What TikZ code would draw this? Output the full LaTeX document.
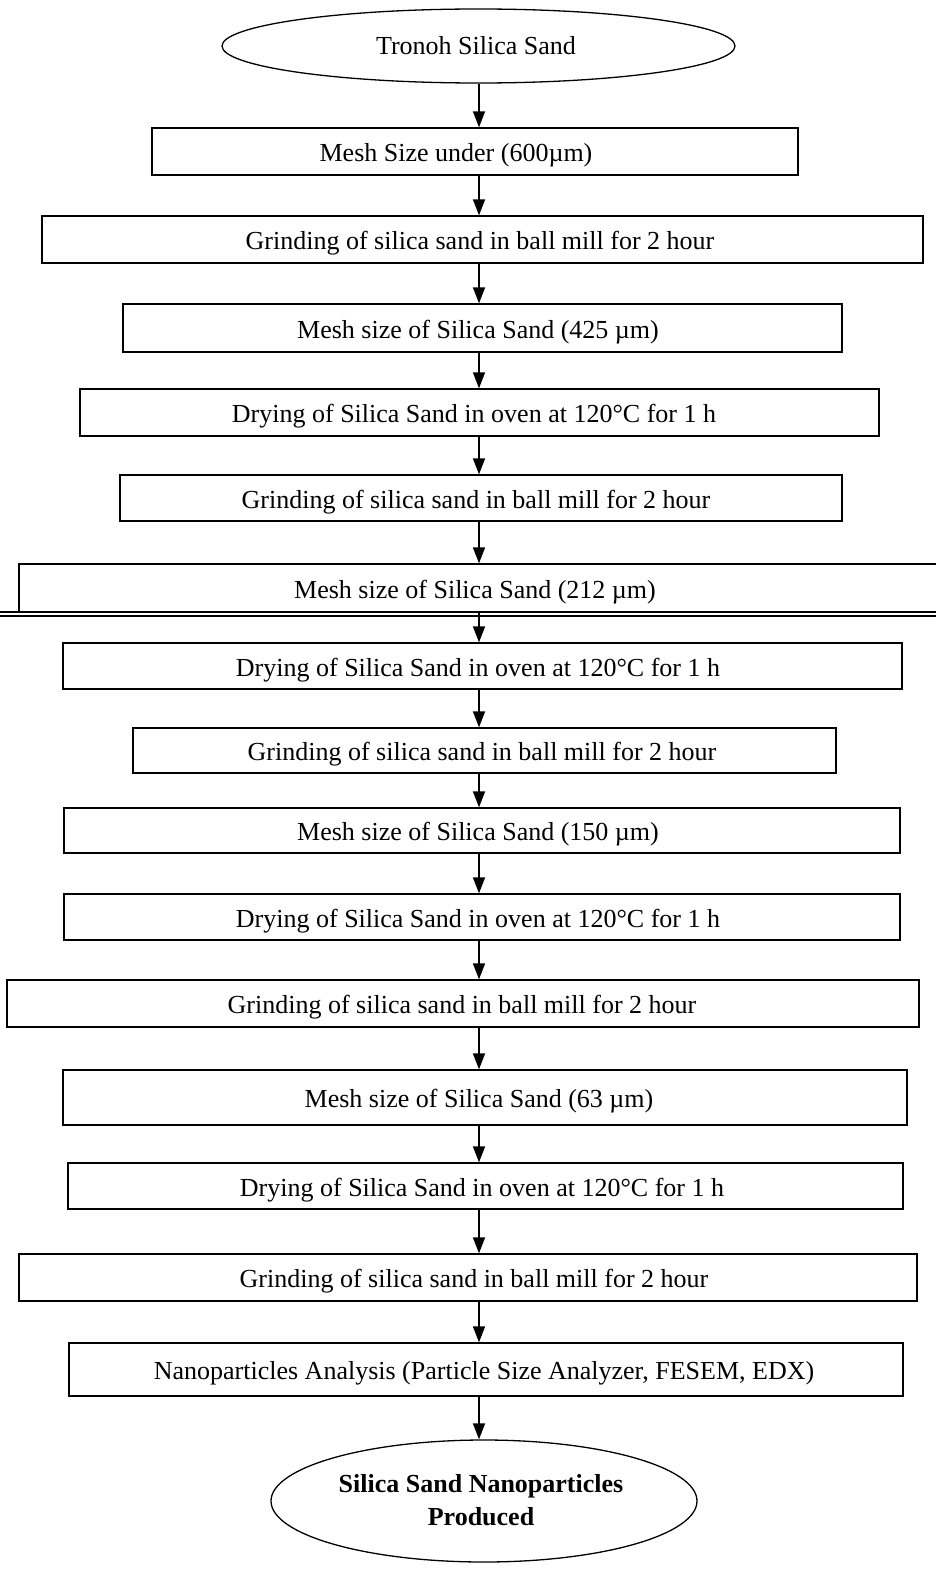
\documentclass[tikz,border=0pt]{standalone}
\usepackage{fontspec}
\setmainfont{Liberation Serif}
\usetikzlibrary{shapes.geometric,arrows.meta}
\tikzset{
  box/.style={draw, line width=1.3pt, rectangle, inner sep=0pt},
  oval/.style={draw, line width=1.3pt, ellipse, inner sep=0pt},
  txt/.style={font=\fontsize{26}{33}\selectfont, inner sep=0pt, align=center},
  arr/.style={line width=1.5pt, -{Triangle[length=16pt,width=12pt]}},
}
\newcommand\stepbox[7]{%
  \node[box, minimum width={(#4-#2)*1pt}, minimum height={(#5-#3)*1pt}] (#1) at ({(#2+#4)/2},{(#3+#5)/2}) {};
  \node[txt] (#1t) at (#6,{(#3+#5)/2+4}) {#7};
}
\begin{document}
\begin{tikzpicture}[x=1pt,y=-1pt]
\useasboundingbox (0,0) rectangle (936,1571);
\coordinate (ax) at (479,0);
\node[oval, minimum width=513pt, minimum height=74pt] (n1) at (478.5,46) {};
\node[txt] (n1t) at (476,46) {Tronoh Silica Sand};
\stepbox{n2}{152}{128}{798}{175}{456}{Mesh Size under (600µm)}
\stepbox{n3}{42}{216}{923}{263}{480}{Grinding of silica sand in ball mill for 2 hour}
\stepbox{n4}{123}{304}{842}{352}{478}{Mesh size of Silica Sand (425 µm)}
\stepbox{n5}{80}{389}{879}{436}{474}{Drying of Silica Sand in oven at 120°C for 1 h}
\stepbox{n6}{120}{475}{842}{521}{476}{Grinding of silica sand in ball mill for 2 hour}
\stepbox{n7}{19}{564}{945}{612}{475}{Mesh size of Silica Sand (212 µm)}
\draw[line width=1.1pt] (0,612) -- (936,612);
\draw[line width=1.1pt] (0,616) -- (936,616);
\stepbox{n8}{63}{643}{902}{689}{478}{Drying of Silica Sand in oven at 120°C for 1 h}
\stepbox{n9}{133}{728}{836}{773}{482}{Grinding of silica sand in ball mill for 2 hour}
\stepbox{n10}{64}{808}{900}{853}{478}{Mesh size of Silica Sand (150 µm)}
\stepbox{n11}{64}{894}{900}{940}{478}{Drying of Silica Sand in oven at 120°C for 1 h}
\stepbox{n12}{7}{980}{919}{1027}{462}{Grinding of silica sand in ball mill for 2 hour}
\stepbox{n13}{63}{1070}{907}{1125}{479}{Mesh size of Silica Sand (63 µm)}
\stepbox{n14}{68}{1163}{903}{1209}{482}{Drying of Silica Sand in oven at 120°C for 1 h}
\stepbox{n15}{19}{1254}{917}{1301}{474}{Grinding of silica sand in ball mill for 2 hour}
\stepbox{n16}{69}{1343}{903}{1396}{484}{Nanoparticles Analysis (Particle Size Analyzer, FESEM, EDX)}
\node[oval, minimum width=426pt, minimum height=122pt] (n17) at (484,1501) {};
\node[txt, font=\fontsize{26}{33}\selectfont\bfseries] (n17t) at (481,1500) {Silica Sand Nanoparticles\\Produced};
\draw[arr] (n1.south -| ax) -- (n2.north -| ax);
\draw[arr] (n2.south -| ax) -- (n3.north -| ax);
\draw[arr] (n3.south -| ax) -- (n4.north -| ax);
\draw[arr] (n4.south -| ax) -- (n5.north -| ax);
\draw[arr] (n5.south -| ax) -- (n6.north -| ax);
\draw[arr] (n6.south -| ax) -- (n7.north -| ax);
\draw[arr] (n7.south -| ax) -- (n8.north -| ax);
\draw[arr] (n8.south -| ax) -- (n9.north -| ax);
\draw[arr] (n9.south -| ax) -- (n10.north -| ax);
\draw[arr] (n10.south -| ax) -- (n11.north -| ax);
\draw[arr] (n11.south -| ax) -- (n12.north -| ax);
\draw[arr] (n12.south -| ax) -- (n13.north -| ax);
\draw[arr] (n13.south -| ax) -- (n14.north -| ax);
\draw[arr] (n14.south -| ax) -- (n15.north -| ax);
\draw[arr] (n15.south -| ax) -- (n16.north -| ax);
\draw[arr] (n16.south -| ax) -- (n17.north -| ax);
\end{tikzpicture}
\end{document}
